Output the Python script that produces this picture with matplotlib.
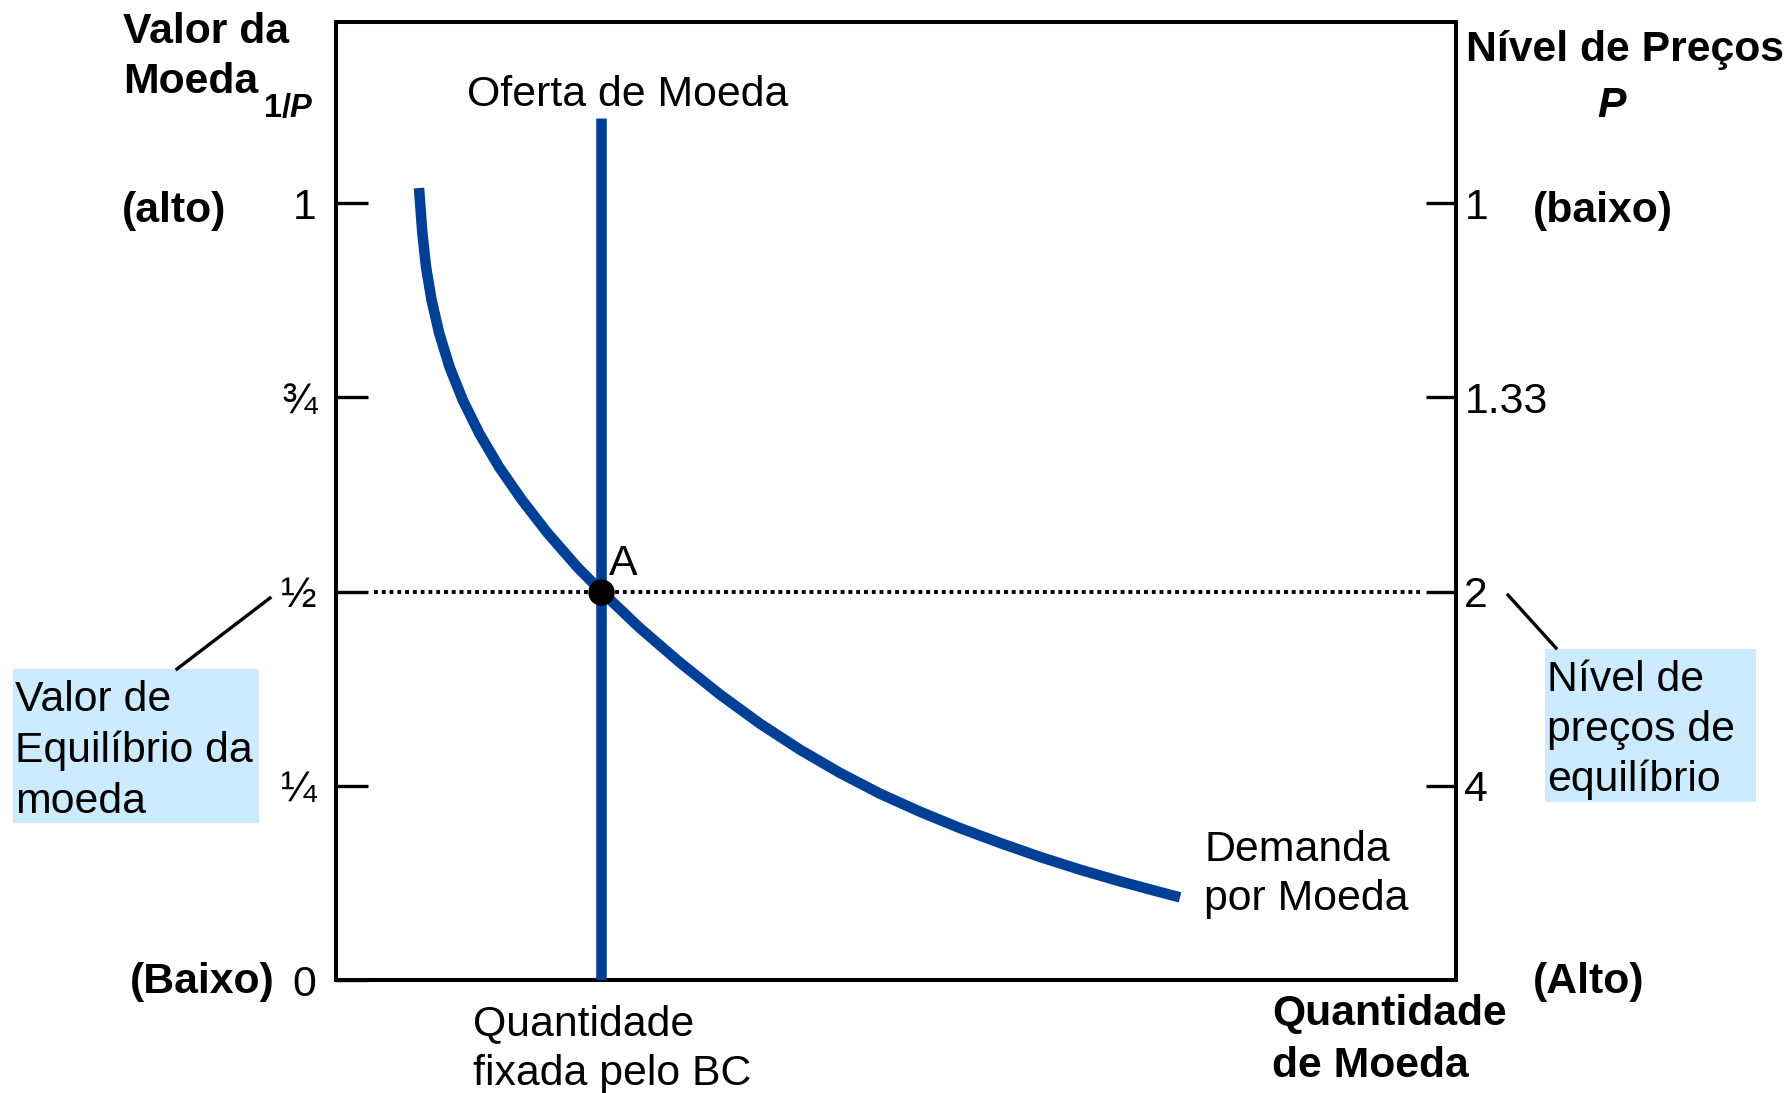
import matplotlib
matplotlib.use("Agg")
import matplotlib.pyplot as plt
from matplotlib.patches import Rectangle
from matplotlib.lines import Line2D

plt.rcParams['font.family'] = ['Liberation Sans', 'DejaVu Sans']

# values (quantity as a fraction of the axis width)
value_ticks = [0, 0.25, 0.5, 0.75, 1]
value_labels = ['0', '¼', '½', '¾', '1']
price_ticks = [1, 0.75, 0.5, 0.25]
price_labels = ['1', '1.33', '2', '4']

supply_q = 0.237
supply_top = 1.109
eq_value = 0.5

demand_q = [0.0741, 0.0771, 0.0804, 0.0853, 0.0921, 0.1014, 0.1132, 0.1277,
            0.1456, 0.1660, 0.1889, 0.2154, 0.2370, 0.2714, 0.3071, 0.3429,
            0.3786, 0.4143, 0.4500, 0.4857, 0.5214, 0.5571, 0.5929, 0.6286,
            0.6643, 0.7000, 0.7357, 0.7536]
demand_v = [1.0193, 0.9614, 0.9176, 0.8752, 0.8327, 0.7889, 0.7465, 0.7040,
            0.6602, 0.6178, 0.5753, 0.5315, 0.5000, 0.4529, 0.4086, 0.3674,
            0.3299, 0.2964, 0.2665, 0.2398, 0.2166, 0.1955, 0.1764, 0.1584,
            0.1420, 0.1270, 0.1131, 0.1064]

BLUE = '#003f96'
BOX = '#cdebfe'
FS = 30.8
W, H = 1791, 1093

fig = plt.figure(figsize=(W / 100, H / 100), dpi=100)
ax = fig.add_axes([336 / W, 1 - 980 / H, 1120 / W, 958 / H])
ax.set_xlim(0, 1)
ax.set_ylim(0, 1.233)
for sp in ax.spines.values():
    sp.set_linewidth(2.9)
ax.set_xticks([])
ax.set_yticks(value_ticks, value_labels)
ax.tick_params(axis='y', direction='in', length=23, width=2.4, pad=14,
               labelsize=FS)

axr = ax.twinx()
axr.set_ylim(ax.get_ylim())
axr.set_yticks(price_ticks, price_labels)
axr.tick_params(axis='y', direction='in', length=21.5, width=2.4, pad=6,
                labelsize=FS)
for sp in axr.spines.values():
    sp.set_visible(False)

# curves
ax.plot(demand_q, demand_v, color=BLUE, lw=7.6, solid_capstyle='butt',
        solid_joinstyle='round', zorder=3)
ax.plot([supply_q, supply_q], [0, supply_top], color=BLUE, lw=7.6,
        solid_capstyle='butt', zorder=3)
ax.hlines(eq_value, 0.034, 0.970, color='black', lw=2.8,
          linestyles=(0, (1, 1)), zorder=2)
ax.plot(supply_q, eq_value, 'o', color='black', ms=18, zorder=5)


def ftext(x, y, s, size=FS, **kw):
    # x, y in pixels of the full picture, y = baseline
    fig.text(x / W, 1 - y / H, s, fontsize=size, va='baseline', ha='left', **kw)


def lines(x, y0, dy, parts, **kw):
    for i, s in enumerate(parts):
        ftext(x, y0 + i * dy, s, **kw)


lines(123, 43, 50, ['Valor da', 'Moeda'], fontweight='bold')
fig.text(291 / W, 1 - 117 / H, '1/', fontsize=23.5, fontweight='bold',
         ha='right', va='baseline')
fig.text(289 / W, 1 - 117 / H, 'P', fontsize=23.5, fontweight='bold',
         fontstyle='italic', ha='left', va='baseline')
ftext(122, 222, '(alto)', fontweight='bold')
ftext(130, 993, '(Baixo)', fontweight='bold')

ftext(1466, 61, 'Nível de Preços', fontweight='bold')
fig.text(1611 / W, 1 - 117 / H, 'P', fontsize=FS, fontweight='bold',
         fontstyle='italic', ha='center', va='baseline')
ftext(1533, 222, '(baixo)', fontweight='bold')
ftext(1533, 993, '(Alto)', fontweight='bold')

ftext(467, 106, 'Oferta de Moeda')
ftext(609, 575, 'A')
lines(473, 1035, 50, ['Quantidade', 'fixada pelo BC'])
lines(1204, 861, 49, ['Demanda', 'por Moeda'])
lines(1272, 1025, 52, ['Quantidade', 'de Moeda'], fontweight='bold')

# callout boxes
fig.patches.append(Rectangle((13 / W, 1 - 823 / H), 246 / W, 154 / H,
                             transform=fig.transFigure, fc=BOX, ec='none',
                             zorder=0))
fig.patches.append(Rectangle((1545 / W, 1 - 802 / H), 211 / W, 153 / H,
                             transform=fig.transFigure, fc=BOX, ec='none',
                             zorder=0))
lines(15, 711, 51, ['Valor de', 'Equilíbrio da', 'moeda'])
lines(1547, 691, 50, ['Nível de', 'preços de', 'equilíbrio'])
fig.lines.append(Line2D([177 / W, 270 / W], [1 - 669 / H, 1 - 598 / H],
                        transform=fig.transFigure, color='black', lw=2.4))
fig.lines.append(Line2D([1508 / W, 1556 / W], [1 - 595 / H, 1 - 648 / H],
                        transform=fig.transFigure, color='black', lw=2.4))

fig.savefig('out.png', dpi=100)
